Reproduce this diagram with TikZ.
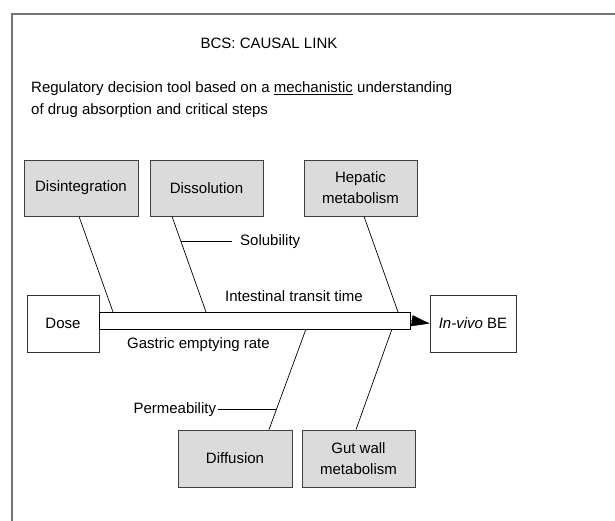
\documentclass[tikz,border=0pt]{standalone}
\usepackage{fontspec}
\setmainfont{Liberation Sans}
\usetikzlibrary{arrows.meta}
\begin{document}
\begin{tikzpicture}[x=1pt,y=-1pt,
  font=\fontsize{15}{18}\selectfont,
  gbox/.style={draw=black!75, fill=black!14, line width=0.8pt, minimum width=113pt, minimum height=56pt, align=center, inner sep=0pt, font=\fontsize{15}{21}\selectfont},
  wbox/.style={draw=black!80, fill=white, line width=0.8pt, minimum height=57pt, align=center, inner sep=0pt},
  ln/.style={line width=0.7pt, black}]
\useasboundingbox (0,0) rectangle (615,520);
\clip (0,0) rectangle (615,520);
\draw[black!55, line width=1.2pt] (12,14) rectangle (640,540);
\node (title) at (269,43) {BCS: CAUSAL LINK};
\node[anchor=west, align=left, inner sep=0pt, font=\fontsize{15}{22}\selectfont] (intro) at (31,100)
  {Regulatory decision tool based on a \underline{mechanistic} understanding\\of drug absorption and critical steps};
% boxes
\node[gbox, minimum width=114pt] (dis) at (81,188) {Disintegration};
\node[gbox] (sol) at (206.5,188) {Dissolution};
\node[gbox] (hep) at (360.5,188) {Hepatic\\metabolism};
\node[wbox, minimum width=72pt] (dose) at (63,323.5) {Dose};
\node[wbox, minimum width=86pt] (inv) at (473,323.5) {\textit{In-vivo} BE};
\node[gbox, minimum width=114pt, minimum height=57pt] (dif) at (235,458.5) {Diffusion};
\node[gbox, minimum height=57pt] (gut) at (358.5,458.5) {Gut wall\\metabolism};
% bar
\node[draw=black, fill=white, line width=0.8pt, minimum width=311pt, minimum height=17pt, inner sep=0pt] (bar) at (254.5,320.5) {};
\draw[line width=0.6pt, -{Triangle[length=18pt,width=11pt]}] (bar.east) -- (inv.west);
% connector endpoints on the bar
\coordinate (e1) at (113,312);
\coordinate (e2) at (206,312);
\coordinate (e3) at (398,312);
\coordinate (e4) at (306,329);
\coordinate (e5) at (392,329);
\draw[ln] (dis.south) ++(-2,0) -- (e1);
\draw[ln] (sol.south) ++(-34.5,0) -- coordinate[pos=0.26] (solp) (e2);
\draw[ln] (hep.south) ++(3.5,0) -- (e3);
\draw[ln] (dif.north) ++(34,0) -- coordinate[pos=0.2] (perp) (e4);
\draw[ln] (gut.north) ++(-2.5,0) -- (e5);
\draw[ln] (solp) -- ++(51,0) node[anchor=west, inner sep=0pt, xshift=8pt, black] (soltxt) {Solubility};
\draw[ln] (perp) -- ++(-58,0) node[anchor=east, inner sep=0pt, xshift=-2pt, black] (pertxt) {Permeability};
\node (itt) at (294,296) {Intestinal transit time};
\node (ger) at (198.5,345) {Gastric emptying rate};
\end{tikzpicture}
\end{document}
